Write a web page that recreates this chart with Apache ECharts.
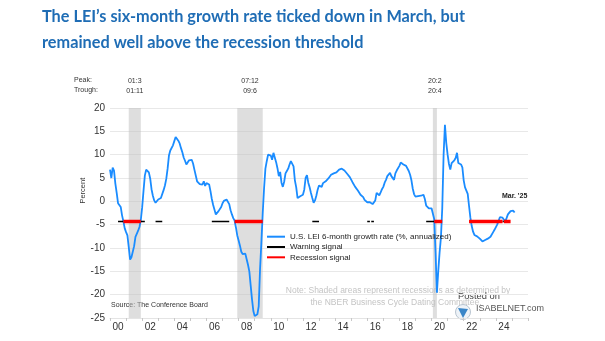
<!DOCTYPE html>
<html>
<head>
<meta charset="utf-8">
<script src="https://cdn.jsdelivr.net/npm/echarts@6/dist/echarts.min.js"></script>
<style>
html,body{margin:0;padding:0;background:#fff;}
#chart{width:605px;height:341px;}
</style>
</head>
<body>
<div id="chart"></div>
<script>
// ---- data ----
const firstMonth = '2000-01';
// U.S. LEI 6-month growth rate (%, annualized), monthly Jan 2000 .. Mar 2025
const leiGrowth = [
  6.8, 5.0, 7.2, 6.6, 3.8, 1.8, -0.4, -0.6, -1.2, -3.0, -4.3, -5.8,          // 2000
  -6.6, -7.3, -9.8, -12.5, -12.0, -10.8, -9.6, -7.6, -7.3, -6.3, -5.5, -4.0,  // 2001
  -1.3, 2.2, 5.5, 6.8, 6.9, 6.2, 4.9, 2.6, 1.2, 0.2, -0.3, -0.1,             // 2002
  0.4, 0.5, 0.7, 1.1, 2.4, 3.4, 4.8, 7.0, 9.8, 10.9, 11.2, 12.0,             // 2003
  12.9, 13.8, 14.0, 13.0, 12.4, 11.4, 10.5, 9.4, 8.7, 7.9, 7.9, 8.8,         // 2004
  8.9, 8.9, 8.1, 6.8, 7.1, 4.3, 3.9, 3.7, 3.9, 3.6, 4.3, 3.3,                // 2005
  3.9, 3.5, 3.6, 2.2, 0.5, -0.8, -1.8, -2.8, -2.8, -2.1, -1.8, -1.2,         // 2006
  -0.4, 0.1, 0.4, 0.4, 0.1, -0.6, -1.9, -2.8, -3.6, -4.1, -5.6, -7.3,        // 2007
  -8.4, -9.5, -10.8, -11.3, -11.2, -11.2, -12.4, -13.6, -15.0, -18.0, -21.0, -23.5, // 2008
  -24.6, -24.6, -24.2, -22.5, -14.5, -8.8, -2.5, 2.8, 7.0, 8.6, 10.0, 10.4,  // 2009
  9.8, 8.9, 10.4, 10.0, 8.4, 7.1, 5.4, 6.3, 4.0, 3.1, 4.2, 6.0,              // 2010
  6.5, 7.0, 7.9, 8.6, 8.2, 7.5, 4.5, 3.0, 0.7, 0.4, 1.1, 0.7,                // 2011
  1.4, 2.5, 5.0, 5.6, 4.0, 3.0, 1.8, 0.7, -0.3, 0.2, 1.2, 2.5,               // 2012
  3.4, 3.6, 3.1, 3.9, 3.7, 4.3, 4.1, 4.9, 5.0, 5.7, 5.5, 6.0,                // 2013
  6.4, 6.2, 6.6, 6.8, 6.5, 7.0, 7.4, 6.6, 6.3, 5.9, 5.7, 5.2,                // 2014
  4.8, 4.1, 3.7, 3.1, 2.9, 2.3, 2.0, 1.4, 1.1, 0.9, 0.3, 0.0,                // 2015
  -0.2, -0.3, -0.2, -0.4, -0.6, -0.7, 0.2, 1.8, 2.2, 1.3, 1.9, 2.6,          // 2016
  3.1, 4.0, 4.6, 5.4, 5.8, 6.1, 5.4, 5.0, 4.6, 6.0, 6.6, 6.8,                // 2017
  7.6, 8.3, 8.6, 7.9, 7.6, 7.6, 7.4, 6.5, 5.7, 4.5, 2.7, 1.5,                // 2018
  1.0, 0.7, 1.1, 0.8, 1.2, 1.3, 1.4, 0.5, -0.9, -1.3, -1.5, -1.8,            // 2019
  -1.5, -1.8, -3.8, -11.0, -19.6, -15.0, -11.0, -7.8, -1.5, 10.0, 16.4, 12.5, // 2020
  10.0, 8.0, 6.8, 8.2, 8.6, 8.8, 9.3, 10.4, 8.2, 8.3, 7.9, 7.3,              // 2021
  4.5, 3.0, 2.6, 1.6, -1.0, -3.5, -5.3, -6.5, -7.2, -7.5, -7.5, -7.7,        // 2022
  -8.0, -8.2, -8.6, -8.6, -8.3, -8.2, -8.0, -7.8, -7.6, -7.2, -6.6, -6.1,    // 2023
  -5.7, -5.0, -4.2, -3.4, -3.4, -3.5, -3.9, -4.3, -3.6, -2.8, -2.5, -2.1,    // 2024
  -1.9, -2.0, -2.4                                                           // 2025
];
const yearLabels = ['00','01','02','03','04','05','06','07','08','09','10','11','12',
  '13','14','15','16','17','18','19','20','21','22','23','24','25'];
const axisYears = [2000, 2026];
const yMin = -25, yMax = 20, yStep = 5;

// NBER recessions (peak month, trough month)
const recessionPeaks   = ['2001-03', '2007-12', '2020-02'];
const recessionTroughs = ['2001-11', '2009-06', '2020-04'];
const peakLabels   = ['01:3', '07:12', '20:2'];
const troughLabels = ['01:11', '09:6', '20:4'];

// Signals (drawn at the threshold level)
const signalLevel = -4.3;
const warningPeriods = [
  ['2000-07','2000-11'], ['2001-12','2002-03'], ['2002-11','2003-04'],
  ['2006-05','2007-06'], ['2012-08','2013-01'], ['2016-01','2016-03'],
  ['2016-04','2016-06'], ['2019-09','2020-03'], ['2024-06','2024-07']
];
const recessionSignalPeriods = [
  ['2000-11','2001-12'], ['2007-10','2009-07'], ['2020-03','2020-09'],
  ['2022-05','2024-06'], ['2024-07','2024-12']
];
const lastLabel = "Mar. '25";

// ---- helpers ----
function ym(s){ const p = s.split('-').map(Number); return p[0] + (p[1]-1)/12; }
const x0 = ym(firstMonth);
const leiData = leiGrowth.map((v,i) => [x0 + i/12, v]);
function segs(periods){
  const out = [];
  periods.forEach(p => { out.push([ym(p[0]), signalLevel]); out.push([ym(p[1]), signalLevel]); out.push([ym(p[1]), '-']); });
  return out;
}
const recAreas = recessionPeaks.map((p,i) => [
  { xAxis: ym(p), name: peakLabels[i] + '\n' + troughLabels[i] },
  { xAxis: ym(recessionTroughs[i]) + 1/12 }
]);
const last = leiData[leiData.length-1];

const FONT = '"Liberation Sans", Arial, sans-serif';
const chart = echarts.init(document.getElementById('chart'), null, {renderer:'canvas'});
chart.setOption({
  animation: false,
  backgroundColor: '#ffffff',
  title: {
    text: 'The LEI\u2019s six-month growth rate ticked down in March, but\nremained well above the recession threshold',
    left: 37, top: -2,
    textStyle: { fontFamily: 'Lato', fontWeight: 'bold', fontSize: 16.3, lineHeight: 26.5, color: '#1f6db5' }
  },
  grid: { left: 110, right: 77, top: 108, bottom: 23 },
  legend: {
    orient: 'vertical', left: 266, top: 232.7, padding: 0,
    itemWidth: 18, itemHeight: 8, itemGap: 2.3,
    itemStyle: { opacity: 0 },
    textStyle: { fontFamily: FONT, fontSize: 8, color: '#222' },
    data: ['U.S. LEI 6-month growth rate (%, annualized)', 'Warning signal', 'Recession signal']
  },
  xAxis: [
    { type: 'value', min: axisYears[0], max: axisYears[1], show: false },
    { type: 'category', data: yearLabels, boundaryGap: true, position: 'bottom',
      axisLine: { show: true, lineStyle: { color: '#e4e4e4' } },
      axisTick: { show: true, interval: 0, length: 3, lineStyle: { color: '#c8c8c8' } },
      axisLabel: { interval: 1, margin: 4, fontFamily: FONT, fontSize: 10, color: '#333' },
      splitLine: { show: false } }
  ],
  yAxis: {
    type: 'value', min: yMin, max: yMax, interval: yStep,
    axisLine: { show: false }, axisTick: { show: false },
    axisLabel: { margin: 5, fontFamily: FONT, fontSize: 10, color: '#333' },
    splitLine: { lineStyle: { color: '#e8e8e8', width: 1 } }
  },
  series: [
    {
      name: 'U.S. LEI 6-month growth rate (%, annualized)', type: 'line', xAxisIndex: 0,
      data: leiData, symbol: 'none', showSymbol: false, z: 2,
      lineStyle: { color: '#1a8cff', width: 1.8 }, itemStyle: { color: '#1a8cff' },
      markArea: {
        silent: true,
        itemStyle: { color: 'rgba(190,190,190,0.5)' },
        label: { show: true, position: 'top', distance: 12, fontFamily: FONT, fontSize: 7, lineHeight: 10, color: '#333' },
        data: recAreas
      },
      markPoint: {
        symbol: 'circle', symbolSize: 0,
        label: { show: true, position: 'top', distance: 13, formatter: lastLabel, fontFamily: FONT, fontWeight: 'bold', fontSize: 7, color: '#222' },
        data: [{ coord: last }]
      }
    },
    {
      name: 'Warning signal', type: 'line', xAxisIndex: 0, data: segs(warningPeriods),
      symbol: 'none', z: 3, lineStyle: { color: '#000', width: 1.5 }, itemStyle: { color: '#000' }
    },
    {
      name: 'Recession signal', type: 'line', xAxisIndex: 0, data: segs(recessionSignalPeriods),
      symbol: 'none', z: 4, lineStyle: { color: '#ff0000', width: 3.5 }, itemStyle: { color: '#ff0000' }
    }
  ],
  graphic: [
    { type: 'text', left: 74, top: 76.5, style: { text: 'Peak:', font: '7px ' + FONT, fill: '#333' } },
    { type: 'text', left: 74, top: 86.5, style: { text: 'Trough:', font: '7px ' + FONT, fill: '#333' } },
    { type: 'text', x: 82.7, y: 190.7, rotation: Math.PI/2, style: { text: 'Percent', font: '7.5px ' + FONT, fill: '#333', align: 'center', verticalAlign: 'middle' } },
    { type: 'text', left: 111, top: 302, style: { text: 'Source: The Conference Board', font: '7px ' + FONT, fill: '#333' } },
    { type: 'text', x: 398, y: 291, style: { text: 'Note: Shaded areas represent recessions as determined by', font: '8.5px ' + FONT, fill: '#c4c4c4', align: 'center', verticalAlign: 'middle' } },
    { type: 'text', x: 396, y: 302.5, style: { text: 'the NBER Business Cycle Dating Committee.', font: '8.5px ' + FONT, fill: '#c4c4c4', align: 'center', verticalAlign: 'middle' } },
    { type: 'circle', shape: { cx: 463, cy: 312, r: 7.5 }, style: { fill: '#eef3f8', stroke: '#b8c4d0', lineWidth: 1 } },
    { type: 'polygon', shape: { points: [[458,308],[468,309],[463,318]] }, style: { fill: '#3a86c8' } },
    { type: 'text', left: 458, top: 292, style: { text: 'Posted on', font: '9.3px ' + FONT, fill: '#444' } },
    { type: 'text', left: 476, top: 304, style: { text: 'ISABELNET.com', font: '9px ' + FONT, fill: '#555' } }
  ]
});
</script>
</body>
</html>
